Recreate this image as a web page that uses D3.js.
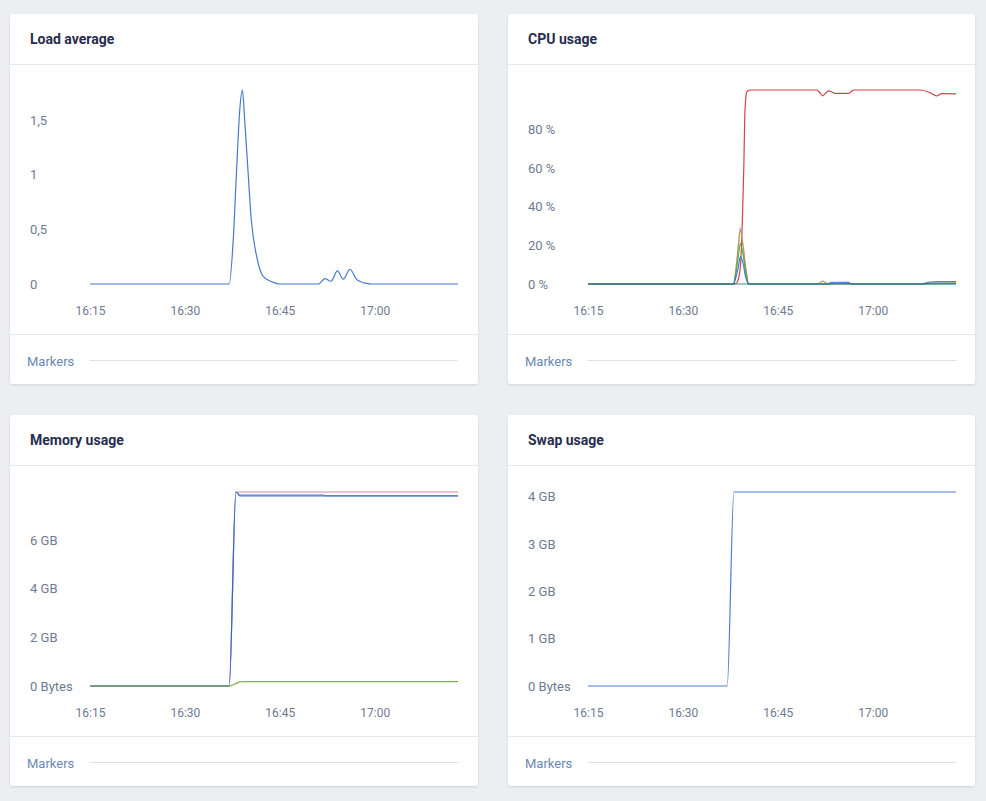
<!DOCTYPE html>
<html>
<head>
<meta charset="utf-8">
<title>System metrics</title>
<script src="https://d3js.org/d3.v7.min.js"></script>
<style>
  body { margin: 0; background: #eceef2; font-family: Roboto, "Noto Sans", sans-serif; }
  svg { display: block; }
  .title { font-size: 14px; font-weight: 700; fill: #272d4e; }
  .tick text { font-size: 13px; fill: #6f7a93; font-family: Roboto, "Noto Sans", sans-serif; }
  .xaxis .tick text { font-size: 12px; }
  .markers { font-size: 13px; fill: #6a89b4; }
  path.domain { display: none; }
  .series { fill: none; stroke-width: 1.2; }
</style>
</head>
<body>
<svg id="viz" width="986" height="801"></svg>
<script>
// time range shown on every chart
const timeRange = ["16:15:00", "17:13:10"];

// Load average
const loadTimes = ["16:15:00", "16:37:00", "16:37:40", "16:38:10", "16:38:40", "16:39:05", "16:39:27",
  "16:39:58", "16:40:30", "16:41:21", "16:42:24", "16:43:59", "16:45:00", "16:51:05", "16:52:08",
  "16:53:06", "16:54:06", "16:55:02", "16:56:06", "16:57:10", "16:58:44", "16:59:35", "17:13:10"];
const loadValues = [0, 0, 0.43, 1.04, 1.59, 1.775, 1.5, 1.04, 0.585, 0.25, 0.067, 0.015, 0, 0, 0.05,
  0.025, 0.12, 0.045, 0.135, 0.04, 0.005, 0, 0];

// CPU usage (%)
const cpuTimes = ["16:15:00", "16:37:58", "16:38:30", "16:38:43", "16:39:05", "16:39:24", "16:39:37",
  "16:39:49", "16:40:05", "16:40:20", "16:40:49", "16:51:09", "16:51:30", "16:52:06", "16:52:40",
  "16:53:00", "16:53:20", "16:54:03", "16:56:09", "16:56:40", "16:56:56", "17:07:29", "17:09:00",
  "17:10:07", "17:10:54", "17:13:10"];
const cpuRed    = [0, 0, 0.5, 2, 9, 33, 59, 90, 99.3, 100, 100.3, 100.3, 99.5, 97.3, 99, 99.8, 99.5, 98.6, 98.6, 99.6, 100.3, 100.3, 99, 97.2, 98.4, 98.3];
const cpuPurple = [0, 0, 11, 18, 29, 23, 17, 11, 5, 0, 0, 0, 0, 0, 0, 0, 0, 0, 0, 0, 0, 0, 0, 0, 0, 0];
const cpuOlive  = [0, 0, 11, 18, 28, 22, 17, 11, 5, 0, 0, 0, 0.3, 1.5, 0.5, 0, 0, 0, 0, 0, 0, 0, 0.4, 0.5, 0.5, 0.5];
const cpuGreen  = [0, 0, 8, 13, 21, 17, 13, 8, 3, 0, 0, 0, 0, 0, 0, 0, 0.2, 0.3, 0.3, 0, 0, 0, 0.2, 0.3, 0.3, 0.3];
const cpuBlue   = [0, 0, 5, 8, 14, 12, 9, 5, 2, 0, 0, 0, 0, 0, 0, 0.2, 0.7, 0.9, 0.8, 0.1, 0, 0, 1.0, 1.2, 1.2, 1.2];
const cpuTeal   = [0, 0, 0, 0, 0, 0, 0, 0, 0, 0, 0, 0, 0, 0, 0, 0, 0, 0, 0, 0, 0, 0, 0, 0, 0, 0];

// Memory usage (GB)
const memTimes     = ["16:15:00", "16:37:00", "16:38:04", "16:38:42", "16:39:12", "16:51:50", "16:52:20", "17:13:10"];
const memPink      = [0, 0, 7.98, 7.98, 7.98, 7.98, 7.98, 7.98];
const memLightBlue = [0, 0, 7.98, 7.87, 7.87, 7.87, 7.82, 7.82];
const memBlue      = [0, 0, 7.98, 7.82, 7.82, 7.82, 7.82, 7.82];
const memGreen     = [0, 0, 0.1, 0.17, 0.18, 0.18, 0.18, 0.18];

// Swap usage (GB)
const swapTimes  = ["16:15:00", "16:37:00", "16:38:04", "17:13:10"];
const swapValues = [0, 0, 4.1, 4.1];

// y ticks
const loadTicks = [0, 0.5, 1, 1.5];
const cpuTicks = [0, 20, 40, 60, 80];
const memTicks = [0, 2, 4, 6];
const swapTicks = [0, 1, 2, 3, 4];

const parseTime = d3.timeParse("%Y-%m-%d %H:%M:%S");
const toDate = (s) => parseTime("2024-01-01 " + s);
const gbFormat = (d) => (d === 0 ? "0 Bytes" : d + " GB");

const svg = d3.select("#viz");

const defs = svg.append("defs");
const shadow = defs.append("filter").attr("id", "shadow")
  .attr("x", "-5%").attr("y", "-5%").attr("width", "110%").attr("height", "110%");
shadow.append("feDropShadow").attr("dx", 0).attr("dy", 1).attr("stdDeviation", 1)
  .attr("flood-color", "#000").attr("flood-opacity", 0.12);

const charts = [
  {
    card: { x: 10, y: 14, w: 468, h: 370 },
    title: "Load average",
    ticks: loadTicks,
    format: (d) => String(d).replace(".", ","),
    series: [{ times: loadTimes, values: loadValues, color: "#2760c0" }]
  },
  {
    card: { x: 508, y: 14, w: 467, h: 370 },
    title: "CPU usage",
    ticks: cpuTicks,
    format: (d) => d + " %",
    series: [
      { times: cpuTimes, values: cpuRed, color: "#c8232c" },
      { times: cpuTimes, values: cpuPurple, color: "#b7a6dc" },
      { times: cpuTimes, values: cpuOlive, color: "#b39a2c" },
      { times: cpuTimes, values: cpuGreen, color: "#3aa63a" },
      { times: cpuTimes, values: cpuBlue, color: "#2c6cd0" },
      { times: cpuTimes, values: cpuTeal, color: "#2a7777" }
    ]
  },
  {
    card: { x: 10, y: 415, w: 468, h: 371 },
    title: "Memory usage",
    ticks: memTicks,
    format: gbFormat,
    series: [
      { times: memTimes, values: memPink, color: "#d5729f", width: 1.8 },
      { times: memTimes, values: memLightBlue, color: "#8db5e6" },
      { times: memTimes, values: memBlue, color: "#1f5db8" },
      { times: memTimes, values: memGreen, color: "#6aaa2c" }
    ]
  },
  {
    card: { x: 508, y: 415, w: 467, h: 371 },
    title: "Swap usage",
    ticks: swapTicks,
    format: gbFormat,
    series: [{ times: swapTimes, values: swapValues, color: "#2f66c2" }]
  }
];

charts.forEach(drawChart);

function drawChart(c) {
  const card = c.card;
  const g = svg.append("g");

  // card background
  g.append("rect")
    .attr("x", card.x).attr("y", card.y)
    .attr("width", card.w).attr("height", card.h)
    .attr("rx", 3)
    .attr("fill", "#fff")
    .attr("filter", "url(#shadow)");

  // header
  g.append("text")
    .attr("class", "title")
    .attr("x", card.x + 20)
    .attr("y", card.y + 26)
    .attr("dominant-baseline", "middle")
    .text(c.title);

  g.append("line")
    .attr("x1", card.x).attr("x2", card.x + card.w)
    .attr("y1", card.y + 50.5).attr("y2", card.y + 50.5)
    .attr("stroke", "#e7e9ee");

  // footer
  const bottomEdge = card.y + card.h;
  g.append("line")
    .attr("x1", card.x).attr("x2", card.x + card.w)
    .attr("y1", bottomEdge - 49.5).attr("y2", bottomEdge - 49.5)
    .attr("stroke", "#e7e9ee");

  g.append("text")
    .attr("class", "markers")
    .attr("x", card.x + 17)
    .attr("y", bottomEdge - 21)
    .attr("dominant-baseline", "middle")
    .text("Markers");

  g.append("line")
    .attr("x1", card.x + 80).attr("x2", card.x + 448)
    .attr("y1", bottomEdge - 23.5).attr("y2", bottomEdge - 23.5)
    .attr("stroke", "#dde0e8");

  // scales
  const plotBottom = bottomEdge - 100;
  const yMax = d3.max(c.series, (s) => d3.max(s.values));

  const xScale = d3.scaleTime()
    .domain(timeRange.map(toDate))
    .range([card.x + 80, card.x + 448]);

  const yScale = d3.scaleLinear()
    .domain([0, yMax])
    .range([plotBottom, plotBottom - 194]);

  // x axis
  const xAxis = d3.axisBottom(xScale)
    .ticks(d3.timeMinute.every(15))
    .tickFormat(d3.timeFormat("%H:%M"))
    .tickSize(0)
    .tickPadding(22);

  g.append("g")
    .attr("class", "xaxis")
    .attr("transform", `translate(0,${plotBottom})`)
    .call(xAxis);

  // y axis, labels left aligned at the card padding
  const yAxis = d3.axisRight(yScale)
    .tickValues(c.ticks)
    .tickFormat(c.format)
    .tickSize(0)
    .tickPadding(0);

  g.append("g")
    .attr("class", "yaxis")
    .attr("transform", `translate(${card.x + 20},0)`)
    .call(yAxis);

  g.selectAll(".tick line").remove();

  // lines
  const line = d3.line()
    .x((d) => xScale(d.t))
    .y((d) => yScale(d.v))
    .curve(d3.curveMonotoneX);

  c.series.forEach((s) => {
    const data = s.times.map((t, i) => ({ t: toDate(t), v: s.values[i] }));
    g.append("path")
      .datum(data)
      .attr("class", "series")
      .attr("d", line)
      .attr("stroke", s.color)
      .attr("stroke-width", s.width || 1.2)
      .attr("stroke-opacity", 0.85);
  });
}
</script>
</body>
</html>
